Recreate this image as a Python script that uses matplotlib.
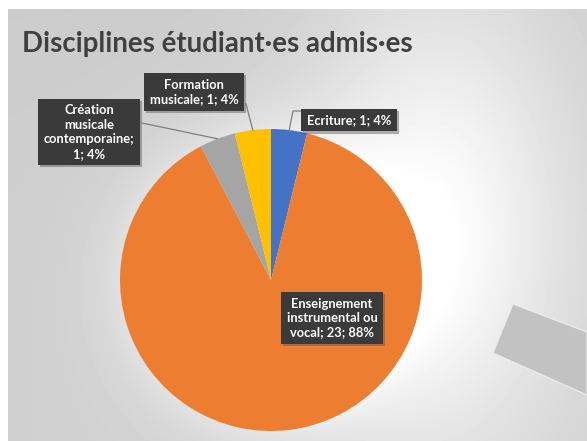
import numpy as np
import matplotlib
matplotlib.use("Agg")
import matplotlib.pyplot as plt
from matplotlib.patches import Polygon
import matplotlib.patheffects as pe

# ---- data ----
categories = ["Ecriture", "Enseignement instrumental ou vocal",
              "Création musicale contemporaine", "Formation musicale"]
values = [1, 23, 1, 1]
colors = ["#4472C4", "#ED7D31", "#A5A5A5", "#FFC000"]
title = "Disciplines étudiant·es admis·es"
# label wrapping (layout only)
wrapped = ["Ecriture", "Enseignement\ninstrumental ou\nvocal",
           "Création\nmusicale\ncontemporaine", "Formation\nmusicale"]
seps = ["; ", "; ", ";\n", "; "]

W, H = 587, 441
fig = plt.figure(figsize=(W / 100, H / 100), dpi=100)
fig.patch.set_facecolor("white")
ax = fig.add_axes([0, 0, 1, 1])

def Y(y):
    return H - y

cx, cy, R = 271, 280, 151

# background gradient panel
xs = np.arange(8, W) + 0.5
ys = np.arange(9, H) + 0.5
XX, YY = np.meshgrid(xs, ys)
dist = np.hypot(XX - cx, YY - cy)
g = 0.80 + 0.015 * (YY / H) \
    + 0.17 * np.exp(-(((XX - 440) / 95) ** 2 + ((YY - 220) / 170) ** 2) / 2) \
    + 0.07 * np.exp(-np.clip(dist - R, 0, None) / 35)
g = np.clip(g, 0, 1)
ax.imshow(g, extent=(8, W, Y(H), Y(9)), cmap="gray", vmin=0, vmax=1,
          aspect="auto", zorder=0, interpolation="bilinear")

# decorative grey band
band = Polygon([(513, Y(304)), (W, Y(332)), (W, Y(395)), (493, Y(353))],
               closed=True, facecolor="#c2c2c2", edgecolor="#eeeeee",
               linewidth=0.8, zorder=1)
ax.add_patch(band)

# pie
wedges, _ = ax.pie(values, colors=colors, startangle=90, counterclock=False,
                   center=(cx, Y(cy)), radius=R,
                   wedgeprops=dict(linewidth=0))
for w in wedges:
    w.set_zorder(2)

total = sum(values)
# label boxes (layout positions, top-down pixels)
box_centers = [(349, 120), (332, 318), (89, 132), (194, 92)]
label_font = dict(family="Lato", weight="bold", size=9.3, color="white")
anchors = []
angle = 90.0
for v in values:
    sweep = 360.0 * v / total
    mid = np.deg2rad(angle - sweep / 2)
    anchors.append((cx + R * np.cos(mid), cy - R * np.sin(mid)))
    angle -= sweep

lc = "#7f7f7f"
# leader lines (Ecriture, Création, Formation)
ax_, ay_ = anchors[0]
ax.plot([301, 293, ax_], [Y(111), Y(111), Y(ay_)], color=lc, lw=0.9, zorder=3)
ax_, ay_ = anchors[2]
ax.plot([142, ax_], [Y(123), Y(ay_)], color=lc, lw=0.9, zorder=3)
ax_, ay_ = anchors[3]
ax.plot([246, ax_], [Y(104), Y(ay_)], color=lc, lw=0.9, zorder=3)

for i, (wc, v) in enumerate(zip(wrapped, values)):
    pct = round(100 * v / total)
    txt = f"{wc}{seps[i]}{v}; {pct}%"
    bx, by = box_centers[i]
    t = ax.text(bx, Y(by), txt, ha="center", va="center", multialignment="center",
                linespacing=1.25, zorder=5, **label_font,
                bbox=dict(boxstyle="square,pad=0.42", facecolor="#3a3a3a",
                          edgecolor="none", linewidth=0))
    t.get_bbox_patch().set_path_effects(
        [pe.SimplePatchShadow(offset=(1.5, -1.5), shadow_rgbFace="#555555", alpha=0.45),
         pe.Normal()])

ax.text(22, Y(52), title, ha="left", va="baseline", fontsize=19.9,
        family="Lato", weight="bold", color="#404040", zorder=5)

ax.set_xlim(0, W)
ax.set_ylim(0, H)
ax.set_aspect("auto")
ax.axis("off")
fig.savefig("out.png", dpi=100, facecolor="white")
